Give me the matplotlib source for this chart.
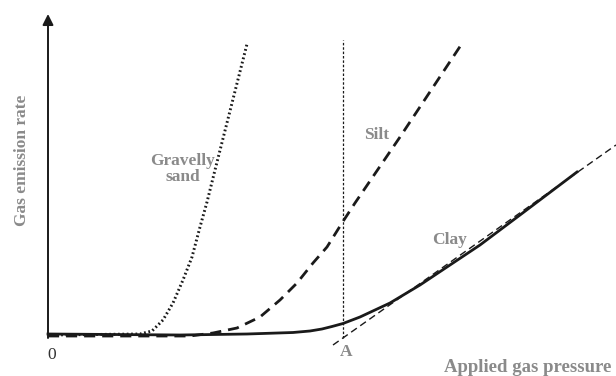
import matplotlib.pyplot as plt

# pression appliquee / debit de gaz (unites arbitraires, origine = 0)
sable_x = [0, 92, 104, 115, 125, 135, 144, 152, 159, 167, 183, 199]
sable_y = [3, 4, 7, 18, 35, 58, 81, 111, 136, 168, 231, 294]

limon_x = [0, 112, 142, 165, 189, 212, 232, 249, 265, 279, 294, 307, 352, 415]
limon_y = [2, 2, 2, 5, 10, 21, 38, 55, 75, 91, 115, 135, 201, 296]

argile_x = [0, 132, 199, 245, 262, 274, 284, 295, 312, 342, 372, 399, 432, 472, 529]
argile_y = [4, 3, 4, 5.5, 7, 9, 11.5, 14.5, 21, 35, 53, 71, 93, 123, 166]

tangente_x = [285, 568]
tangente_y = [-7, 193]

point_A = 295
haut_A = 298

fig = plt.figure(figsize=(6.16, 3.76), dpi=100)
ax = fig.add_axes([0, 0, 1, 1])
ax.set_xlim(-48, 568)
ax.set_ylim(-38, 338)
ax.axis('off')

serif = ['Liberation Serif', 'DejaVu Serif']
gris = '#8a8a8a'

# axes avec fleches
ax.annotate('', xy=(569, 0), xytext=(0, 0),
            arrowprops=dict(arrowstyle='-|>', color='#1a1a1a', lw=1.4,
                            mutation_scale=16, shrinkA=0, shrinkB=0))
ax.annotate('', xy=(0, 324), xytext=(0, 0),
            arrowprops=dict(arrowstyle='-|>', color='#1a1a1a', lw=1.4,
                            mutation_scale=16, shrinkA=0, shrinkB=0))

ax.plot(sable_x, sable_y, color='#1a1a1a', lw=2.1, linestyle=(0, (0.6, 0.9)))
ax.plot(limon_x, limon_y, color='#1a1a1a', lw=2, linestyle=(0, (4, 2.5)))
ax.plot(argile_x, argile_y, color='#1a1a1a', lw=2, solid_joinstyle='round')
ax.plot(tangente_x, tangente_y, color='#1a1a1a', lw=1, linestyle=(0, (5, 3)))
ax.plot([point_A, point_A], [0, haut_A], color='#1a1a1a', lw=0.9, linestyle=(0, (2, 1.5)))

ax.text(4, -17, '0', fontsize=12.5, family=serif, color='#333333', ha='center', va='center')
ax.text(point_A + 3, -14, 'A', fontsize=12.5, family=serif, color=gris, weight='bold',
        ha='center', va='center')
ax.text(480, -29, 'Applied gas pressure', fontsize=13.5, family=serif, color=gris,
        weight='bold', ha='center', va='center')
ax.text(-26, 178, 'Gas emission rate', fontsize=12.5, family=serif, color=gris,
        weight='bold', ha='center', va='center', rotation=90)
ax.text(135, 169, 'Gravelly\nsand', fontsize=12.5, family=serif, color=gris,
        weight='bold', ha='center', va='center', linespacing=0.95)
ax.text(329, 203, 'Silt', fontsize=12.5, family=serif, color=gris, weight='bold',
        ha='center', va='center')
ax.text(402, 98, 'Clay', fontsize=12.5, family=serif, color=gris, weight='bold',
        ha='center', va='center')

plt.savefig('out.png', dpi=100)
